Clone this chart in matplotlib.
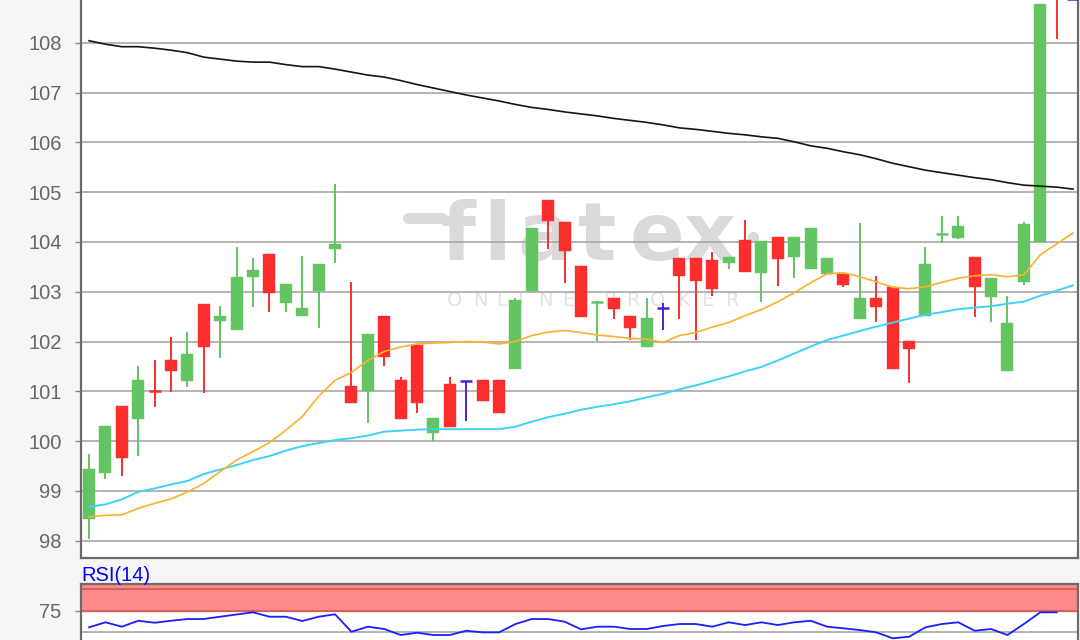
import matplotlib
matplotlib.use("Agg")
import matplotlib.pyplot as plt

# ---- price data (daily OHLC) ----
opens = [98.43, 99.35, 100.70, 100.44, 101.01, 101.63, 101.21, 102.75, 102.41, 102.24,
         103.29, 103.75, 102.77, 102.52, 103.01, 103.85, 101.11, 101.01, 102.51, 101.23,
         101.93, 100.16, 101.14, 101.21, 101.23, 101.23, 101.44, 103.02, 104.84, 104.39,
         103.52, 102.78, 102.87, 102.51, 101.88, 102.68, 103.67, 103.67, 103.64, 103.57,
         104.04, 103.37, 104.10, 103.69, 103.45, 103.36, 103.36, 102.45, 102.87, 103.10,
         102.02, 102.52, 104.14, 104.08, 103.70, 102.89, 101.41, 103.20, 104.00, 110.10,
         108.87]
highs = [99.74, 100.30, 100.70, 101.51, 101.63, 102.10, 102.19, 102.75, 102.71, 103.90,
         103.67, 103.75, 103.15, 103.72, 103.55, 105.16, 103.19, 102.15, 102.51, 101.29,
         101.93, 100.46, 101.29, 101.21, 101.23, 101.23, 102.88, 104.27, 104.84, 104.39,
         103.52, 102.81, 102.87, 102.51, 102.87, 102.77, 103.67, 103.67, 103.80, 103.70,
         104.44, 104.02, 104.10, 104.10, 104.27, 103.67, 103.36, 104.37, 103.32, 103.10,
         102.02, 103.90, 104.52, 104.52, 103.70, 103.27, 102.91, 104.39, 108.78, 110.30,
         109.60]
lows = [98.03, 99.24, 99.30, 99.71, 100.68, 100.99, 101.08, 100.96, 101.67, 102.24,
        102.69, 102.60, 102.60, 102.52, 102.28, 103.57, 100.76, 100.36, 101.51, 100.44,
        100.56, 100.01, 100.28, 100.40, 100.81, 100.56, 101.44, 103.02, 103.85, 103.17,
        102.50, 102.02, 102.45, 102.03, 101.88, 102.24, 102.45, 102.03, 102.91, 103.45,
        103.40, 102.80, 103.11, 103.28, 103.45, 103.36, 103.09, 102.45, 102.40, 101.44,
        101.16, 102.52, 103.98, 104.05, 102.49, 102.40, 101.41, 103.13, 104.00, 108.07,
        108.87]
closes = [99.45, 100.30, 99.67, 101.22, 100.99, 101.40, 101.74, 101.88, 102.51, 103.30,
          103.44, 102.97, 103.15, 102.67, 103.55, 103.96, 100.76, 102.15, 101.68, 100.44,
          100.76, 100.46, 100.28, 101.21, 100.81, 100.56, 102.83, 104.27, 104.42, 103.82,
          102.50, 102.81, 102.65, 102.28, 102.47, 102.68, 103.32, 103.21, 103.05, 103.70,
          103.40, 104.02, 103.65, 104.10, 104.27, 103.67, 103.13, 102.87, 102.70, 101.44,
          101.85, 103.55, 104.16, 104.31, 103.09, 103.27, 102.38, 104.35, 108.78, 109.60,
          108.87]

# ---- moving averages ----
ma_slow = [108.04, 107.97, 107.92, 107.92, 107.89, 107.85, 107.80, 107.71, 107.67, 107.63,
           107.61, 107.61, 107.56, 107.52, 107.52, 107.47, 107.41, 107.35, 107.31, 107.24,
           107.16, 107.09, 107.02, 106.95, 106.89, 106.83, 106.76, 106.70, 106.66, 106.61,
           106.57, 106.53, 106.48, 106.44, 106.40, 106.35, 106.29, 106.26, 106.22, 106.18,
           106.15, 106.11, 106.08, 106.01, 105.93, 105.88, 105.81, 105.75, 105.67, 105.58,
           105.51, 105.44, 105.39, 105.34, 105.29, 105.25, 105.19, 105.14, 105.12, 105.10,
           105.06]
ma_fast = [98.48, 98.51, 98.52, 98.65, 98.75, 98.84, 98.98, 99.15, 99.39, 99.62,
           99.79, 99.97, 100.22, 100.49, 100.90, 101.22, 101.38, 101.62, 101.80, 101.89,
           101.95, 101.97, 101.98, 102.00, 101.99, 101.95, 102.00, 102.12, 102.19, 102.22,
           102.18, 102.13, 102.10, 102.06, 102.05, 101.98, 102.12, 102.18, 102.29, 102.38,
           102.52, 102.64, 102.80, 102.98, 103.18, 103.36, 103.38, 103.30, 103.20, 103.09,
           103.06, 103.10, 103.19, 103.27, 103.32, 103.34, 103.30, 103.34, 103.74, 103.96,
           104.18]
ma_mid = [98.68, 98.73, 98.83, 98.98, 99.05, 99.13, 99.20, 99.34, 99.43, 99.52,
          99.62, 99.70, 99.81, 99.90, 99.96, 100.02, 100.06, 100.11, 100.19, 100.21,
          100.23, 100.24, 100.24, 100.24, 100.24, 100.24, 100.29, 100.39, 100.48, 100.55,
          100.63, 100.69, 100.74, 100.80, 100.88, 100.95, 101.04, 101.12, 101.21, 101.30,
          101.40, 101.49, 101.62, 101.76, 101.90, 102.03, 102.12, 102.21, 102.30, 102.38,
          102.46, 102.54, 102.59, 102.65, 102.68, 102.71, 102.76, 102.80, 102.92, 103.02,
          103.13]

# ---- RSI(14) ----
rsi = [55.5, 61.3, 56.2, 63.1, 60.8, 63.1, 65.1, 65.1, 67.8, 70.4,
       72.9, 67.8, 67.8, 62.8, 67.8, 70.6, 50.3, 56.2, 53.5, 46.5,
       49.2, 46.5, 46.5, 51.5, 49.6, 49.6, 59.3, 65.1, 65.1, 62.0,
       53.1, 56.2, 56.2, 53.5, 53.5, 57.0, 59.3, 59.3, 56.2, 61.3,
       58.1, 61.3, 58.1, 61.3, 63.1, 56.2, 54.3, 52.3, 49.6, 42.7,
       44.5, 55.5, 59.3, 61.3, 51.5, 53.5, 46.5, 59.3, 72.9, 72.9]

price_ticks = [98, 99, 100, 101, 102, 103, 104, 105, 106, 107, 108, 109]
rsi_ticks = [75]

# ---- styling ----
UP = "#62c562"
DOWN = "#fb2d2d"
FLAT = "#4b20d4"
GRID = "#a8a8a8"
SPINE = "#6b6b6b"
LABEL = "#666666"
FONT = "Liberation Sans"
FS = 14.5

W, H = 1080, 640
fig = plt.figure(figsize=(W / 100, H / 100), dpi=100, facecolor="#f6f6f6")


def px_axes(x0, y0, x1, y1):
    return [x0 / W, 1 - y1 / H, (x1 - x0) / W, (y1 - y0) / H]


ax = fig.add_axes(px_axes(81, -30, 1078, 558))
ax2 = fig.add_axes(px_axes(81, 584.3, 1078, 679.3))

for a in (ax, ax2):
    a.set_facecolor("white")
    a.set_xlim(-0.49, 60.3)
    a.set_xticks([])
    for s in a.spines.values():
        s.set_color(SPINE)
        s.set_linewidth(1.6)
    a.tick_params(axis="y", length=4, width=1, color="#888888", pad=10,
                  labelsize=FS, labelcolor=LABEL)
    for lab in a.get_yticklabels():
        lab.set_family(FONT)

ax.spines["top"].set_visible(False)
ax2.spines["bottom"].set_visible(False)

# ---- main price panel ----
ax.set_ylim(97.653, 109.46)
ax.set_yticks(price_ticks)
ax.set_yticklabels([str(t) for t in price_ticks], family=FONT)
ax.set_axisbelow(True)
ax.yaxis.grid(True, color=GRID, lw=1.2)

# watermark
wm = dict(transform=fig.transFigure, color="#dadada", zorder=0.2,
          ha="center", va="baseline", family="DejaVu Sans", fontweight="bold",
          fontsize=58)
for ch, xc in zip("flatex", [458, 497, 545, 597, 657, 710]):
    ax.text(xc / W, 1 - 260 / H, ch, **wm)
ax.plot([408 / W, 442 / W], [1 - 218 / H, 1 - 218 / H], transform=fig.transFigure,
        color="#dadada", lw=8, solid_capstyle="round", zorder=0.2)
ax.plot([753 / W], [1 - 237 / H], transform=fig.transFigure, marker="o", ms=7,
        color="#dadada", zorder=0.2)
for ch, xc in zip("ONLINEBROKER", [455, 480, 502, 520, 545, 568, 610, 633, 658, 683, 707, 732]):
    ax.text(xc / W, 1 - 306 / H, ch, transform=fig.transFigure, color="#e2e2e2",
            zorder=0.2, ha="center", va="baseline", family="DejaVu Sans", fontsize=14)

# candles
body_w = 0.73
for i, (o, h, l, c) in enumerate(zip(opens, highs, lows, closes)):
    if c > o:
        col = UP
    elif c < o:
        col = DOWN
    else:
        col = FLAT
    ax.vlines(i, l, h, color=col, lw=1.4, zorder=2)
    if abs(c - o) < 0.04:
        ax.hlines((o + c) / 2, i - body_w / 2, i + body_w / 2, color=col, lw=1.8, zorder=3)
    else:
        ax.bar(i, abs(c - o), bottom=min(o, c), width=body_w, color=col,
               edgecolor=col, lw=0.3, zorder=3)

x = list(range(len(closes)))
ax.plot(x, ma_slow, color="#151515", lw=1.2, zorder=4)
ax.plot(x, ma_mid, color="#3dd3f5", lw=1.4, zorder=4)
ax.plot(x, ma_fast, color="#fbb12e", lw=1.2, zorder=4)

# ---- RSI panel ----
ax2.set_ylim(-5, 105.5)
ax2.set_yticks(rsi_ticks)
ax2.set_yticklabels([str(t) for t in rsi_ticks], family=FONT)
ax2.axhspan(75, 105.5, color="#ff8a8a", zorder=1)
ax2.axhline(75, color="#d65a5a", lw=1.3, zorder=2)
ax2.axhline(100, color="#d65a5a", lw=1.3, zorder=2)
ax2.axhline(50, color=GRID, lw=1.2, zorder=1)
ax2.plot(range(len(rsi)), rsi, color="#1c1cff", lw=1.3, zorder=3)

fig.text(81 / W, 1 - 581 / H, "RSI(14)", color="#0000ff", fontsize=FS,
         family=FONT, ha="left", va="baseline")

fig.savefig("out.png", dpi=100, facecolor=fig.get_facecolor())
